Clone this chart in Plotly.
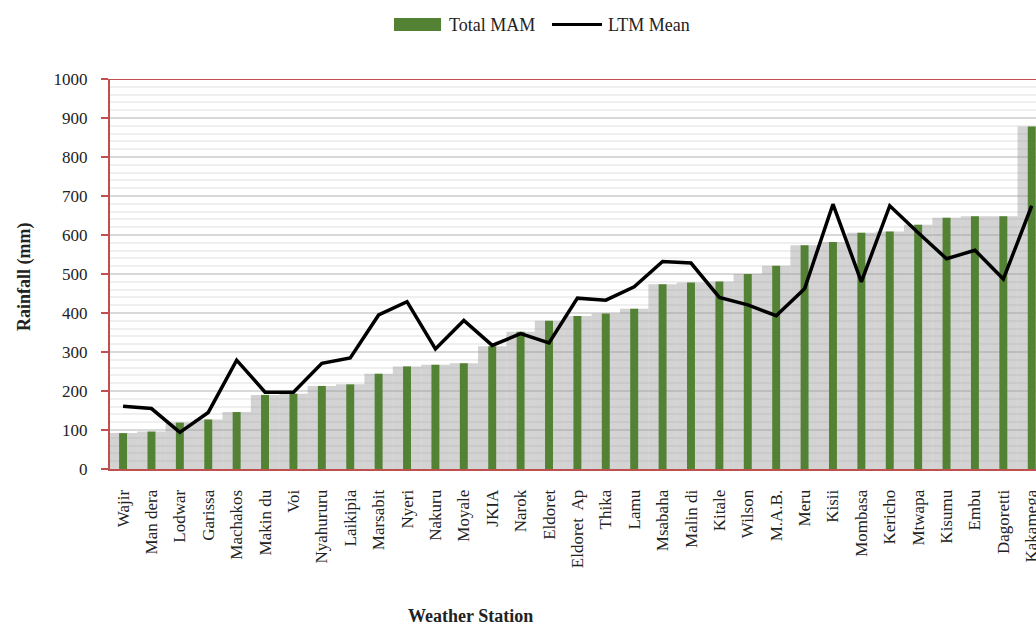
import plotly.graph_objects as go

# stations sorted by total MAM rainfall
stations = ['Wajir', 'Man dera', 'Lodwar', 'Garissa', 'Machakos', 'Makin du', 'Voi',
            'Nyahururu', 'Laikipia', 'Marsabit', 'Nyeri', 'Nakuru', 'Moyale', 'JKIA',
            'Narok', 'Eldoret', 'Eldoret  Ap', 'Thika', 'Lamu', 'Msabaha', 'Malin di',
            'Kitale', 'Wilson', 'M.A.B.', 'Meru', 'Kisii', 'Mombasa', 'Kericho',
            'Mtwapa', 'Kisumu', 'Embu', 'Dagoretti', 'Kakamega']
total_mam = [92, 96, 119, 127, 146, 190, 193, 213, 217, 244, 263, 267, 271, 315,
             352, 380, 392, 399, 411, 474, 478, 481, 500, 521, 574, 582, 606, 609,
             626, 644, 648, 648, 878]
ltm_mean = [161, 155, 94, 145, 279, 197, 197, 271, 285, 395, 429, 308, 381, 317,
            347, 323, 438, 433, 467, 532, 528, 440, 421, 393, 462, 679, 480, 675,
            606, 539, 561, 487, 675]

axis_red = '#C0504D'
bar_green = '#548235'
font_main = 'Liberation Serif'
txt = '#222'

fig = go.Figure()

# grey "shadow" behind the bars (the Excel shadow effect), drawn as full-width bars
fig.add_trace(go.Bar(
    x=stations, y=total_mam,
    marker=dict(color='rgba(150,150,150,0.42)', line=dict(width=0)),
    width=1.0, showlegend=False, hoverinfo='skip'
))

fig.add_trace(go.Bar(
    x=stations, y=total_mam,
    name='Total MAM',
    marker=dict(color=bar_green, line=dict(width=0)),
    width=0.28, showlegend=False
))

fig.add_trace(go.Scatter(
    x=stations, y=ltm_mean,
    name='LTM Mean',
    mode='lines',
    line=dict(color='black', width=3.5), showlegend=False
))

# top border of the plot area
fig.add_shape(type='line', xref='paper', yref='y', x0=0, x1=1, y0=1000, y1=1000,
              line=dict(color=axis_red, width=2))

# legend drawn by hand (wide swatch like the original)
fig.add_shape(type='rect', xref='paper', yref='paper', x0=0.3067, x1=0.3575,
              y0=1.1231, y1=1.1564, line=dict(width=0), fillcolor=bar_green)
fig.add_annotation(text='Total MAM', xref='paper', yref='paper', x=0.364, y=1.1397,
                   xanchor='left', yanchor='middle', showarrow=False,
                   font=dict(family=font_main, size=18, color=txt))
fig.add_shape(type='line', xref='paper', yref='paper', x0=0.4773, x1=0.5313,
              y0=1.1397, y1=1.1397, line=dict(color='black', width=3))
fig.add_annotation(text='LTM Mean', xref='paper', yref='paper', x=0.5355, y=1.1397,
                   xanchor='left', yanchor='middle', showarrow=False,
                   font=dict(family=font_main, size=18, color=txt))

# axis titles
fig.add_annotation(text='<b>Weather Station</b>', xref='paper', yref='paper',
                   x=0.389, y=-0.378, xanchor='center', yanchor='middle', showarrow=False,
                   font=dict(family=font_main, size=18, color=txt))
fig.add_annotation(text='<b>Rainfall (mm)</b>', xref='paper', yref='paper',
                   x=-0.093, y=0.492, textangle=-90, xanchor='center', yanchor='middle',
                   showarrow=False, font=dict(family=font_main, size=18, color=txt))

fig.update_layout(
    width=1036, height=628,
    margin=dict(l=110, r=0, t=79, b=159),
    plot_bgcolor='white', paper_bgcolor='white',
    font=dict(family=font_main, size=17, color=txt),
    barmode='overlay',
    showlegend=False,
)

fig.update_xaxes(
    range=[-0.46, 32.15], automargin=False,
    showline=True, linecolor=axis_red, linewidth=2,
    showgrid=False, ticks='', tickangle=-90, ticklabelstandoff=12,
    tickfont=dict(family=font_main, size=17, color=txt),
)

fig.update_yaxes(
    range=[0, 1000], dtick=100, automargin=False,
    showline=True, linecolor=axis_red, linewidth=2,
    ticks='outside', tickcolor=axis_red, ticklen=7, tickwidth=2, ticklabelstandoff=10,
    showgrid=True, gridcolor='#d9d9d9', gridwidth=1.5,
    minor=dict(dtick=20, showgrid=True, gridcolor='#efefef', gridwidth=1.5),
    zeroline=False,
    tickfont=dict(family=font_main, size=17, color=txt),
)

# drop the default 8px page margin so the figure fills the window exactly
fig.write_html('out.html', config={'displayModeBar': False},
               post_script="document.body.style.margin='0';document.body.style.overflow='hidden';")
